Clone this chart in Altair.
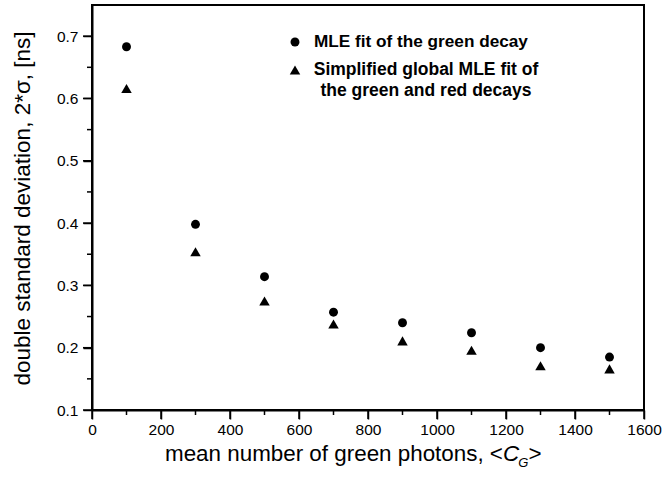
import altair as alt
import pandas as pd

# ---- data ----
photons = [100, 300, 500, 700, 900, 1100, 1300, 1500]
mle_green = [0.683, 0.398, 0.314, 0.257, 0.240, 0.224, 0.200, 0.185]
global_mle = [0.616, 0.354, 0.275, 0.238, 0.211, 0.196, 0.171, 0.166]
series_names = ["MLE fit of the green decay",
                "Simplified global MLE fit of the green and red decays"]
x_major = [0, 200, 400, 600, 800, 1000, 1200, 1400, 1600]
x_minor = [100, 300, 500, 700, 900, 1100, 1300, 1500]
y_major = [0.1, 0.2, 0.3, 0.4, 0.5, 0.6, 0.7]
y_minor = [0.15, 0.25, 0.35, 0.45, 0.55, 0.65]
x_title_main = "mean number of green photons, <"
x_title_c = "C"
x_title_sub = "G"
x_title_end = ">"
y_title = "double standard deviation, 2*\u03c3, [ns]"
legend_line1 = "MLE fit of the green decay"
legend_line2a = "Simplified global MLE fit of"
legend_line2b = "the green and red decays"

df = pd.DataFrame({
    "photons": photons * 2,
    "sigma": mle_green + global_mle,
    "series": [series_names[0]] * len(photons) + [series_names[1]] * len(photons),
})

W, H = 552, 405
FONT = "Liberation Sans"
xscale = alt.Scale(domain=[0, 1600], nice=False, zero=False)
yscale = alt.Scale(domain=[0.1, 0.75], nice=False, zero=False)

xaxis = alt.Axis(values=x_major, format="d", title=None, tickSize=9,
                 labelPadding=3, labelFontSize=15.5, labelFlush=False)
yaxis = alt.Axis(values=y_major, format=".1f", title=y_title, tickSize=9,
                 labelPadding=5, labelFontSize=15.5, labelFlush=False,
                 titleFontSize=22.5, titlePadding=22, titleY=203)

points = alt.Chart(df).mark_point(filled=True, opacity=1, color="black").encode(
    x=alt.X("photons:Q", scale=xscale, axis=xaxis),
    y=alt.Y("sigma:Q", scale=yscale, axis=yaxis),
    shape=alt.Shape("series:N", scale=alt.Scale(domain=series_names,
                                                range=["circle", "triangle-up"]), legend=None),
    size=alt.Size("series:N", scale=alt.Scale(domain=series_names, range=[80, 110]), legend=None),
)

# tick marks, placed through the scales
def xticks(vals, length):
    return alt.Chart(pd.DataFrame({"photons": vals})).mark_rule(
        color="black", strokeWidth=1.5, clip=False).encode(
        x=alt.X("photons:Q", scale=xscale, axis=xaxis), y=alt.value(H), y2=alt.value(H + length))

def yticks(vals, length):
    return alt.Chart(pd.DataFrame({"sigma": vals})).mark_rule(
        color="black", strokeWidth=1.5, clip=False).encode(
        y=alt.Y("sigma:Q", scale=yscale, axis=yaxis), x=alt.value(0), x2=alt.value(-length))

tick_layers = [xticks(x_major, 9), xticks(x_minor, 5), yticks(y_major, 9), yticks(y_minor, 5)]

one = pd.DataFrame({"k": [0]})

def txt(text, x, y, size, align="left", weight="normal", style="normal", baseline="middle"):
    return alt.Chart(one).mark_text(align=align, baseline=baseline, fontSize=size,
                                    fontWeight=weight, fontStyle=style, font=FONT,
                                    color="black").encode(
        x=alt.value(x), y=alt.value(y), text=alt.value(text))

leg_c = alt.Chart(one).mark_point(filled=True, opacity=1, color="black", shape="circle",
                                  size=80).encode(x=alt.value(203), y=alt.value(37))
leg_t = alt.Chart(one).mark_point(filled=True, opacity=1, color="black", shape="triangle-up",
                                  size=110).encode(x=alt.value(203), y=alt.value(65))

legend_layers = [
    leg_c, leg_t,
    txt(legend_line1, 222, 37, 17.2, weight="bold"),
    txt(legend_line2a, 334, 65, 17.5, align="center", weight="bold"),
    txt(legend_line2b, 334, 86, 17.5, align="center", weight="bold"),
]

# x-axis title with italic C and subscript G
TF = 22.4
x0 = 73
base_y = 456
w_main = 15.092 * TF
w_c = 0.722 * TF
SF = 13
w_g = 0.722 * SF
title_layers = [
    txt(x_title_main, x0, base_y, TF, baseline="alphabetic"),
    txt(x_title_c, x0 + w_main, base_y, TF, style="italic", baseline="alphabetic"),
    txt(x_title_sub, x0 + w_main + w_c - 1, base_y + 6, SF, style="italic", baseline="alphabetic"),
    txt(x_title_end, x0 + w_main + w_c + w_g, base_y, TF, baseline="alphabetic"),
]

chart = alt.layer(points, *tick_layers, *legend_layers, *title_layers).properties(
    width=W, height=H,
    autosize=alt.AutoSizeParams(type="none"),
    padding={"left": 92, "top": 5, "right": 19, "bottom": 70},
    background="white",
).configure_view(
    stroke="black", strokeWidth=2
).configure_axis(
    labelFont=FONT, titleFont=FONT, labelColor="black", titleColor="black",
    titleFontWeight="normal", domainColor="black", domainWidth=2,
    tickColor="black", tickWidth=1.5, grid=False,
)

chart.save("out.html", embed_options={"renderer": "svg", "actions": False})
